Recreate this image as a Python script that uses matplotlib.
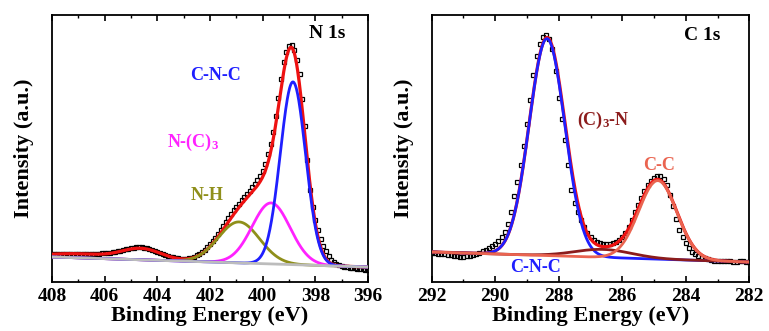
import numpy as np
import matplotlib
matplotlib.use("Agg")
import matplotlib.pyplot as plt

plt.rcParams['font.family'] = ['Liberation Serif', 'DejaVu Serif']
plt.rcParams['font.weight'] = 'bold'
plt.rcParams['mathtext.fontset'] = 'custom'
plt.rcParams['mathtext.rm'] = 'Liberation Serif:bold'
plt.rcParams['mathtext.bf'] = 'Liberation Serif:bold'
plt.rcParams['mathtext.it'] = 'Liberation Serif:bold'

# ---------------- N 1s spectrum ----------------
n_energy = [408.0, 407.9, 407.8, 407.7, 407.6, 407.5, 407.4, 407.3, 407.2, 407.1,
            407.0, 406.9, 406.8, 406.7, 406.6, 406.5, 406.4, 406.3, 406.2, 406.1,
            406.0, 405.9, 405.8, 405.7, 405.6, 405.5, 405.4, 405.3, 405.2, 405.1,
            405.0, 404.9, 404.8, 404.7, 404.6, 404.5, 404.4, 404.3, 404.2, 404.1,
            404.0, 403.9, 403.8, 403.7, 403.6, 403.5, 403.4, 403.3, 403.2, 403.1,
            403.0, 402.9, 402.8, 402.7, 402.6, 402.5, 402.4, 402.3, 402.2, 402.1,
            402.0, 401.9, 401.8, 401.7, 401.6, 401.5, 401.4, 401.3, 401.2, 401.1,
            401.0, 400.9, 400.8, 400.7, 400.6, 400.5, 400.4, 400.3, 400.2, 400.1,
            400.0, 399.9, 399.8, 399.7, 399.6, 399.5, 399.4, 399.3, 399.2, 399.1,
            399.0, 398.9, 398.8, 398.7, 398.6, 398.5, 398.4, 398.3, 398.2, 398.1,
            398.0, 397.9, 397.8, 397.7, 397.6, 397.5, 397.4, 397.3, 397.2, 397.1,
            397.0, 396.9, 396.8, 396.7, 396.6, 396.5, 396.4, 396.3, 396.2, 396.1,
            396.0]
n_counts = [28, 28.5, 28.5, 28, 28, 28.5, 28.5, 28, 28, 28.5,
            28.5, 28, 28, 28.5, 28.5, 28, 28, 28.5, 28.5, 29,
            29, 29.5, 29.5, 30, 30.5, 31, 31.5, 32.5, 33, 33.5,
            34, 34.5, 35, 35.5, 35, 34.5, 34, 33, 32.5, 31.5,
            30.5, 29.5, 28.5, 27.5, 26.5, 25.5, 25, 24.5, 24, 23.5,
            23.5, 23.5, 24, 24.5, 25.5, 27, 28.5, 30.5, 32.5, 35,
            38, 41, 44.5, 48, 52, 56, 60, 64, 68, 72,
            75, 78.5, 82, 85, 88, 91.5, 95, 98.5, 102, 106,
            111, 118, 128, 138, 150, 166, 184, 203, 220, 230,
            236, 237, 232, 222, 208, 183, 156, 122, 92, 75,
            62, 52, 43, 36, 31, 26, 22, 20, 18, 17,
            16, 15.5, 15, 14.5, 14, 14, 13.5, 13, 13, 12.5,
            12.5]
n_baseline_end_energy = [408.0, 396.0]
n_baseline_end_counts = [25.0, 15.0]
n_peak_names = ['C-N-C', 'N-(C)3', 'N-H']
n_peak_centers = [398.85, 399.68, 400.90]
n_peak_heights = [182.7, 61.0, 41.0]
n_peak_sigmas = [0.48, 0.72, 0.78]
n_sat_centers = [404.6, 407.0]
n_sat_heights = [11.0, 4.0]
n_sat_sigmas = [0.75, 1.2]

# ---------------- C 1s spectrum ----------------
c_energy = [292.0, 291.9, 291.8, 291.7, 291.6, 291.5, 291.4, 291.3, 291.2, 291.1,
            291.0, 290.9, 290.8, 290.7, 290.6, 290.5, 290.4, 290.3, 290.2, 290.1,
            290.0, 289.9, 289.8, 289.7, 289.6, 289.5, 289.4, 289.3, 289.2, 289.1,
            289.0, 288.9, 288.8, 288.7, 288.6, 288.5, 288.4, 288.3, 288.2, 288.1,
            288.0, 287.9, 287.8, 287.7, 287.6, 287.5, 287.4, 287.3, 287.2, 287.1,
            287.0, 286.9, 286.8, 286.7, 286.6, 286.5, 286.4, 286.3, 286.2, 286.1,
            286.0, 285.9, 285.8, 285.7, 285.6, 285.5, 285.4, 285.3, 285.2, 285.1,
            285.0, 284.9, 284.8, 284.7, 284.6, 284.5, 284.4, 284.3, 284.2, 284.1,
            284.0, 283.9, 283.8, 283.7, 283.6, 283.5, 283.4, 283.3, 283.2, 283.1,
            283.0, 282.9, 282.8, 282.7, 282.6, 282.5, 282.4, 282.3, 282.2, 282.1,
            282.0]
c_counts = [29, 29, 28.5, 28, 28, 27.5, 27, 26.5, 26, 25.5,
            25.5, 26, 26.5, 27, 28, 29.5, 31, 32.5, 34, 36,
            38, 41, 45, 50, 58, 70, 86, 100, 117, 136,
            158, 182, 207, 226, 238, 245, 247, 243, 233, 211,
            184, 163, 142, 117, 92, 79, 70, 62, 55, 49,
            45, 42, 40, 39, 38, 38, 38, 39, 40, 42,
            45, 49, 55, 62, 70, 77, 84, 91, 97, 101,
            104, 106, 106, 103, 97, 87, 76, 63, 52, 45,
            39, 34, 30, 28, 26, 25, 24, 23, 22, 21.5,
            21, 21, 21, 21, 21, 20.5, 20.5, 21, 21, 20.5,
            20]
c_baseline_end_energy = [292.0, 282.0]
c_baseline_end_counts = [30.0, 20.0]
c_peak_names = ['C-N-C', '(C)3-N', 'C-C']
c_peak_centers = [288.37, 286.6, 284.88]
c_peak_heights = [217.0, 8.0, 78.5]
c_peak_sigmas = [0.56, 0.9, 0.6]


def gauss(x, c, h, s):
    return h * np.exp(-(x - c) ** 2 / (2 * s ** 2))


fig = plt.figure(figsize=(7.69, 3.31), dpi=100)
fig.patch.set_facecolor('white')
axL = fig.add_axes([52 / 769, 49 / 331, 316 / 769, 267 / 331])
axR = fig.add_axes([431.7 / 769, 49 / 331, 317.6 / 769, 267 / 331])

BLUE = '#1f1fff'
RED = '#ee1111'
MAG = '#ff22ff'
OLIVE = '#8f8f1a'
GRAY = '#bcbcbc'
DRED = '#8c1c1c'
SALMON = '#ea6450'

# ---- left panel ----
xl = np.linspace(408, 396, 800)
bl = np.interp(xl, n_baseline_end_energy[::-1], n_baseline_end_counts[::-1])
comps = [gauss(xl, c, h, s) for c, h, s in zip(n_peak_centers, n_peak_heights, n_peak_sigmas)]
sats = [gauss(xl, c, h, s) for c, h, s in zip(n_sat_centers, n_sat_heights, n_sat_sigmas)]
fitL = bl + sum(comps) + sum(sats)

axL.plot(n_energy, n_counts, 's', ms=3.3, mfc='none', mec='black', mew=0.9, zorder=2)
axL.plot(xl, fitL, color=RED, lw=2.3, zorder=3)
for comp, col in zip(comps[::-1], [OLIVE, MAG, BLUE]):
    axL.plot(xl, bl + comp, color=col, lw=2.0, zorder=4)
axL.plot(xl, bl, color=GRAY, lw=2.0, zorder=5)

axL.text(397.56, 248, 'N 1s', fontsize=14, fontweight='bold', ha='center', va='center')
axL.text(401.81, 206, 'C-N-C', color=BLUE, fontsize=13, fontweight='bold', ha='center', va='center')
axL.text(402.64, 140, r'N-(C)$_\mathbf{3}$', color=MAG, fontsize=13, fontweight='bold', ha='center', va='center')
axL.text(402.11, 87, 'N-H', color=OLIVE, fontsize=13, fontweight='bold', ha='center', va='center')

axL.set_xlim(408, 396)
axL.set_xticks([408, 406, 404, 402, 400, 398, 396])
axL.set_xticks([407, 405, 403, 401, 399, 397], minor=True)

# ---- right panel ----
xr = np.linspace(292, 282, 800)
br = np.interp(xr, c_baseline_end_energy[::-1], c_baseline_end_counts[::-1])
compsR = [gauss(xr, c, h, s) for c, h, s in zip(c_peak_centers, c_peak_heights, c_peak_sigmas)]
fitR = br + sum(compsR)

axR.plot(c_energy, c_counts, 's', ms=3.3, mfc='none', mec='black', mew=0.9, zorder=2)
axR.plot(xr, fitR, color=RED, lw=2.3, zorder=3)
for comp, col, z in zip(compsR, [BLUE, DRED, SALMON], [4, 5, 6]):
    axR.plot(xr, br + comp, color=col, lw=2.0, zorder=z)

axR.text(283.47, 246, 'C 1s', fontsize=14, fontweight='bold', ha='center', va='center')
axR.text(286.59, 162, r'(C)$_\mathbf{3}$-N', color=DRED, fontsize=13, fontweight='bold', ha='center', va='center')
axR.text(284.85, 117, 'C-C', color=SALMON, fontsize=13, fontweight='bold', ha='center', va='center')
axR.text(288.74, 14, 'C-N-C', color=BLUE, fontsize=13, fontweight='bold', ha='center', va='center')

axR.set_xlim(292, 282)
axR.set_xticks([292, 290, 288, 286, 284, 282])
axR.set_xticks([291, 289, 287, 285, 283], minor=True)

for ax in (axL, axR):
    ax.set_ylim(0, 267)
    ax.set_yticks([])
    ax.tick_params(axis='x', which='both', direction='in', top=True, bottom=True,
                   labelsize=14, pad=4)
    ax.tick_params(axis='x', which='major', length=4, width=1.2)
    ax.tick_params(axis='x', which='minor', length=2.5, width=1.0)
    for lbl in ax.get_xticklabels():
        lbl.set_fontweight('bold')
    for sp in ax.spines.values():
        sp.set_linewidth(1.3)
    ax.set_xlabel('Binding Energy (eV)', fontsize=16, fontweight='bold', labelpad=1)
    ax.set_ylabel('Intensity (a.u.)', fontsize=16, fontweight='bold', labelpad=13)

fig.savefig('out.png', dpi=100, facecolor='white')
